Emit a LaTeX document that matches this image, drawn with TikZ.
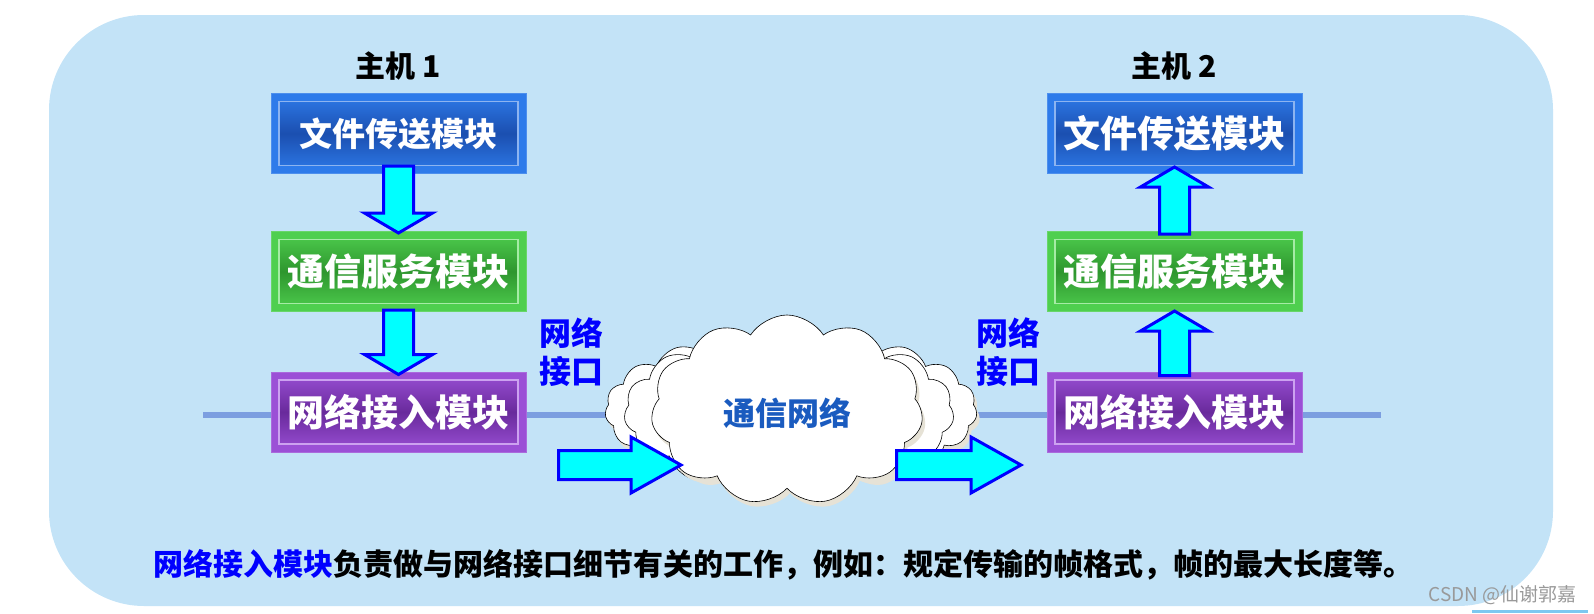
\documentclass[tikz,border=0pt]{standalone}
\usepackage{fontspec}
\setmainfont{Noto Sans CJK SC}
\usetikzlibrary{calc,shapes.symbols,shadows}

\definecolor{panel}{HTML}{C3E3F7}
\definecolor{wire}{HTML}{7C9EE0}
\definecolor{arrowfill}{HTML}{00FFFF}
\definecolor{arrowline}{HTML}{0000FF}
\definecolor{netblue}{HTML}{1A5BBF}
\definecolor{fileout}{HTML}{2E7BEA}
\definecolor{filein}{HTML}{1B4FB0}
\definecolor{fileedge}{HTML}{8DB4F0}
\definecolor{servout}{HTML}{4FCF4F}
\definecolor{servin}{HTML}{2E962E}
\definecolor{servedge}{HTML}{A6EBA6}
\definecolor{accout}{HTML}{9B50D6}
\definecolor{accin}{HTML}{692A9C}
\definecolor{accedge}{HTML}{CCA2F0}
\definecolor{cloudshadow}{HTML}{E6E2D6}
\definecolor{markline}{HTML}{7DC8F0}

% block arrow: tail, tip, half shaft, half head, head length
\newcommand{\blockarrow}[5]{%
  \coordinate (hb) at ($(#2)!#5!(#1)$);
  \draw[bigarrow] ($(#1)!#3!90:(#2)$) -- ($(hb)!#3!90:(#2)$) -- ($(hb)!#4!90:(#2)$)
    -- (#2) -- ($(hb)!#4!-90:(#2)$) -- ($(hb)!#3!-90:(#2)$) -- ($(#1)!#3!-90:(#2)$) -- cycle;
}

\begin{document}
\begin{tikzpicture}[x=1pt,y=1pt]
  \useasboundingbox (0,0) rectangle (1594,-613);
  \tikzset{
    module/.style n args={3}{fill=#1, draw=#1!85!white, line width=1pt,
      minimum width=255pt, minimum height=80pt, inner sep=0pt, text=white,
      path picture={\draw[#3, line width=1.2pt, top color=#1, bottom color=#1, middle color=#2]
        ([shift={(8pt,-8pt)}]path picture bounding box.north west) rectangle
        ([shift={(-8pt,8pt)}]path picture bounding box.south east);}},
    bigarrow/.style={draw=arrowline, fill=arrowfill, line width=3pt},
    big/.style={font=\fontsize{37}{37}\selectfont\bfseries},
    port/.style={text=arrowline, align=center, font=\fontsize{32}{38}\selectfont\bfseries},
    puff/.style={cloud, draw=black, fill=white, line width=0.6pt},
    puffshadow/.style={drop shadow={shadow xshift=3pt, shadow yshift=-5pt, fill=cloudshadow, opacity=1}}
  }

  % panel
  \fill[panel, rounded corners=95pt] (49,-15) rectangle (1553,-606);

  % the wire
  \coordinate (wireL) at (203,-415);
  \coordinate (wireR) at (1381,-415);
  \draw[wire, line width=6pt] (wireL) -- (wireR);

  % hosts
  \foreach \h/\x/\tsize in {1/398.5/33,2/1174.5/37}{
    \node[font=\fontsize{30}{30}\selectfont\bfseries] (h\h) at (\x,-66) {主机 \h};
    \node[module={fileout}{filein}{fileedge}, font=\fontsize{\tsize}{\tsize}\selectfont\bfseries] (f\h) at (\x,-133.5) {文件传送模块};
    \node[module={servout}{servin}{servedge}, big] (s\h) at (\x,-271.5) {通信服务模块};
    \node[module={accout}{accin}{accedge}, big] (a\h) at (\x,-412) {网络接入模块};
  }

  % network cloud
  \node[puff, puffshadow, cloud puffs=19, cloud puff arc=110, aspect=2.5, minimum width=372pt, minimum height=158pt] (back) at (791,-410) {};
  \node[puff, cloud puffs=15, cloud puff arc=115, aspect=2, minimum width=330pt, minimum height=165pt] (mid) at (789,-412) {};
  \node[puff, puffshadow, cloud puffs=11, cloud puff arc=115, aspect=1.45, minimum width=272pt, minimum height=190pt] (net) at (787,-410) {};
  \node[text=netblue, font=\fontsize{32}{32}\selectfont\bfseries] (netname) at (787,-413) {通信网络};

  % interface labels
  \node[port] (p1) at (571,-352) {网络\\接口};
  \node[port] (p2) at (1008,-352) {网络\\接口};

  % host 1: down
  \coordinate (d1t) at ($(f1.south)+(0,8)$);
  \coordinate (d1h) at ($(s1.north)+(0,-2)$);
  \coordinate (d2t) at ($(s1.south)+(0,2)$);
  \coordinate (d2h) at ($(a1.north)+(0,-3)$);
  \blockarrow{d1t}{d1h}{15pt}{34pt}{20pt}
  \blockarrow{d2t}{d2h}{15pt}{34pt}{20pt}

  % host 2: up
  \coordinate (u1t) at ($(a2.north)+(0,-4)$);
  \coordinate (u1h) at ($(s2.south)+(0,1)$);
  \coordinate (u2t) at ($(s2.north)+(0,-3)$);
  \coordinate (u2h) at ($(f2.south)+(0,7)$);
  \blockarrow{u1t}{u1h}{15pt}{34pt}{20pt}
  \blockarrow{u2t}{u2h}{15pt}{34pt}{20pt}

  % across the network
  \coordinate (in1) at (558.5,-465);
  \coordinate (in2) at (681,-465);
  \coordinate (out1) at (896.5,-465);
  \coordinate (out2) at (1021,-465);
  \blockarrow{in1}{in2}{14.5pt}{28pt}{50pt}
  \blockarrow{out1}{out2}{14.5pt}{28pt}{50pt}

  % note
  \node[anchor=west, font=\fontsize{30}{30}\selectfont\bfseries] (note) at (150,-565)
    {\textcolor{arrowline}{网络接入模块}负责做与网络接口细节有关的工作，例如：规定传输的帧格式，帧的最大长度等。};

  % watermark
  \node[anchor=east, text=black!40, font=\fontsize{19}{19}\selectfont] (mark) at (1580,-595) {CSDN @仙谢郭嘉};
  \draw[markline, line width=3pt] (1472,-611) -- (1588,-611);
\end{tikzpicture}
\end{document}
